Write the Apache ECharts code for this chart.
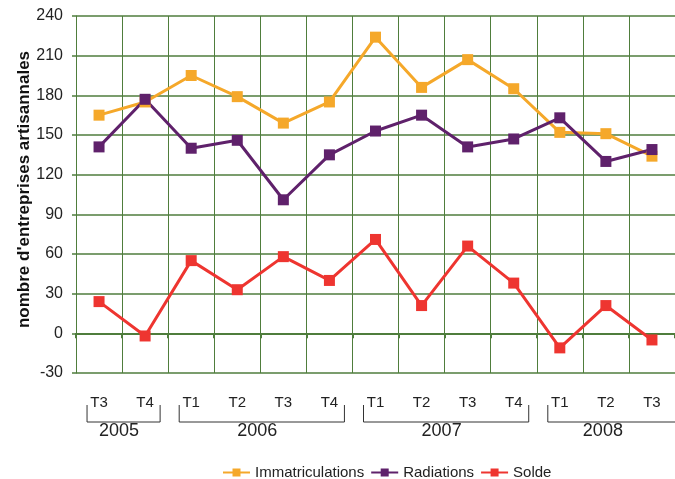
<!DOCTYPE html>
<html>
<head>
<meta charset="utf-8">
<script src="https://cdn.jsdelivr.net/npm/echarts@6/dist/echarts.min.js"></script>
<style>
  html, body { margin: 0; padding: 0; background: #fff; }
  #chart { width: 675px; height: 479px; }
</style>
</head>
<body>
<div id="chart"></div>
<script>
// trimestres et années
const quarters = ['T3', 'T4', 'T1', 'T2', 'T3', 'T4', 'T1', 'T2', 'T3', 'T4', 'T1', 'T2', 'T3']
const years = ['2005', '2006', '2007', '2008']
const yearSpans = [[0, 1], [2, 5], [6, 9], [10, 12]]

// séries
const immatriculations = [165, 175, 195, 179, 159, 175, 224, 186, 207, 185, 152, 151, 134]
const radiations = [141, 177, 140, 146, 101, 135, 153, 165, 141, 147, 163, 130, 139]
const solde = [24, -2, 55, 33, 58, 40, 71, 21, 66, 38, -11, 21, -5]

const gridGreen = '#4f7d3c'
const font = 'Liberation Sans, Arial, sans-serif'

const chart = echarts.init(document.getElementById('chart'))

const makeSeries = (name, data, color) => ({
  name: name,
  type: 'line',
  data: data,
  symbol: 'rect',
  symbolSize: 11,
  lineStyle: { width: 3, color: color },
  itemStyle: { color: color },
  z: 3
})

const option = {
  animation: false,
  grid: { left: 76, top: 16, width: 603, height: 357 },
  legend: {
    left: 217,
    top: 460,
    itemWidth: 27,
    itemHeight: 10,
    itemGap: 6,
    textStyle: { fontFamily: font, fontSize: 15, color: '#222' },
    data: ['Immatriculations', 'Radiations', 'Solde']
  },
  xAxis: [
    {
      type: 'category',
      data: quarters,
      boundaryGap: true,
      axisLine: { onZero: true, lineStyle: { color: gridGreen, width: 2 } },
      axisTick: { show: true, length: 5, lineStyle: { color: gridGreen, width: 2 } },
      axisLabel: { show: false },
      splitLine: { show: true, lineStyle: { color: gridGreen, width: 1 } }
    },
    {
      type: 'category',
      data: quarters,
      position: 'bottom',
      boundaryGap: true,
      axisLine: { show: false },
      axisTick: { show: false },
      axisLabel: { margin: 22, fontFamily: font, fontSize: 15, color: '#222' },
      splitLine: { show: false }
    }
  ],
  yAxis: {
    type: 'value',
    min: -30,
    max: 240,
    interval: 30,
    name: "nombre d'entreprises artisannales",
    nameLocation: 'middle',
    nameGap: 43,
    nameMoveOverlap: false,
    nameTextStyle: {
      fontFamily: font, fontSize: 17, fontWeight: 'bold', color: '#111',
      padding: [0, 0, 0, 10]
    },
    axisLine: { show: true, lineStyle: { color: gridGreen, width: 1 } },
    axisTick: { show: true, length: 4, lineStyle: { color: gridGreen, width: 1.5 } },
    axisLabel: { margin: 13, fontFamily: font, fontSize: 16, color: '#222' },
    splitLine: { show: true, lineStyle: { color: gridGreen, width: 1.5 } }
  },
  series: [
    makeSeries('Immatriculations', immatriculations, '#f5a82a'),
    makeSeries('Radiations', radiations, '#5f216b'),
    makeSeries('Solde', solde, '#ee3530')
  ]
}

chart.setOption(option)

// accolades des années, placées à partir de l'axe des catégories
const graphics = []
yearSpans.forEach((span, i) => {
  const xa = chart.convertToPixel({ xAxisIndex: 0 }, span[0])
  const xb = chart.convertToPixel({ xAxisIndex: 0 }, span[1])
  const last = i === yearSpans.length - 1
  const x0 = xa - 12
  const x1 = xb + (last ? 40 : 15)
  graphics.push({
    type: 'polyline',
    shape: { points: [[x0, 405], [x0, 422], [x1, 422], [x1, 405]] },
    style: { stroke: '#333', lineWidth: 1, fill: null }
  })
  graphics.push({
    type: 'text',
    x: (xa + xb) / 2 - 3,
    y: 431,
    style: {
      text: years[i],
      font: '18px ' + font,
      fill: '#222',
      align: 'center',
      verticalAlign: 'middle'
    }
  })
})
chart.setOption({ graphic: graphics })
</script>
</body>
</html>
